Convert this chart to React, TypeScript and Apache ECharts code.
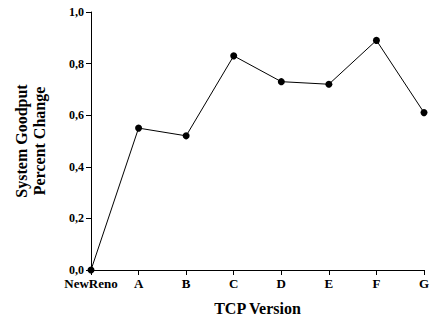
import React, { useEffect, useRef } from "react";
import * as echarts from "echarts";

const categories = ["NewReno", "A", "B", "C", "D", "E", "F", "G"];
const goodput = [0, 0.55, 0.52, 0.83, 0.73, 0.72, 0.89, 0.61];
const yTicks = [0, 0.2, 0.4, 0.6, 0.8, 1.0];

export default function App() {
  const ref = useRef<HTMLDivElement>(null);
  useEffect(() => {
    const chart = echarts.init(ref.current!, null, { renderer: "svg" });
    const font = "serif";
    chart.setOption({
      animation: false,
      grid: { left: 91, right: 8, top: 12, bottom: 52, containLabel: false, outerBoundsMode: "none" },
      xAxis: {
        type: "category",
        data: categories,
        boundaryGap: false,
        name: "TCP Version",
        nameLocation: "middle",
        nameGap: 30,
        nameTextStyle: { fontFamily: font, fontWeight: "bold", fontSize: 16, color: "#000" },
        axisLine: { lineStyle: { color: "#000", width: 1 } },
        axisTick: { alignWithLabel: true, length: 5, inside: false, lineStyle: { color: "#000" } },
        axisLabel: { fontFamily: font, fontWeight: "bold", fontSize: 13, lineHeight: 12, color: "#000", margin: 7, interval: 0 },
        splitLine: { show: false },
      },
      yAxis: {
        type: "value",
        min: 0,
        max: 1,
        interval: 0.2,
        name: "System Goodput\nPercent Change",
        nameLocation: "middle",
        nameGap: 43,
        nameRotate: 90,
        nameTextStyle: { fontFamily: font, fontWeight: "bold", fontSize: 16, color: "#000", lineHeight: 18 },
        axisLine: { show: true, lineStyle: { color: "#000", width: 1 } },
        axisTick: { show: true, length: 5, lineStyle: { color: "#000" } },
        axisLabel: {
          fontFamily: font,
          fontWeight: "bold",
          fontSize: 12,
          lineHeight: 11,
          color: "#000",
          margin: 7,
          formatter: (v: number) => (yTicks.includes(Math.round(v * 10) / 10) ? v.toFixed(1).replace(".", ",") : ""),
        },
        splitLine: { show: false },
      },
      series: [
        {
          type: "line",
          data: goodput,
          symbol: "circle",
          symbolSize: 7,
          showSymbol: true,
          lineStyle: { color: "#000", width: 1 },
          itemStyle: { color: "#000" },
        },
      ],
    });
    return () => chart.dispose();
  }, []);
  return <div ref={ref} style={{ width: 432, height: 322, position: "absolute", left: 0, top: 0 }} />;
}
